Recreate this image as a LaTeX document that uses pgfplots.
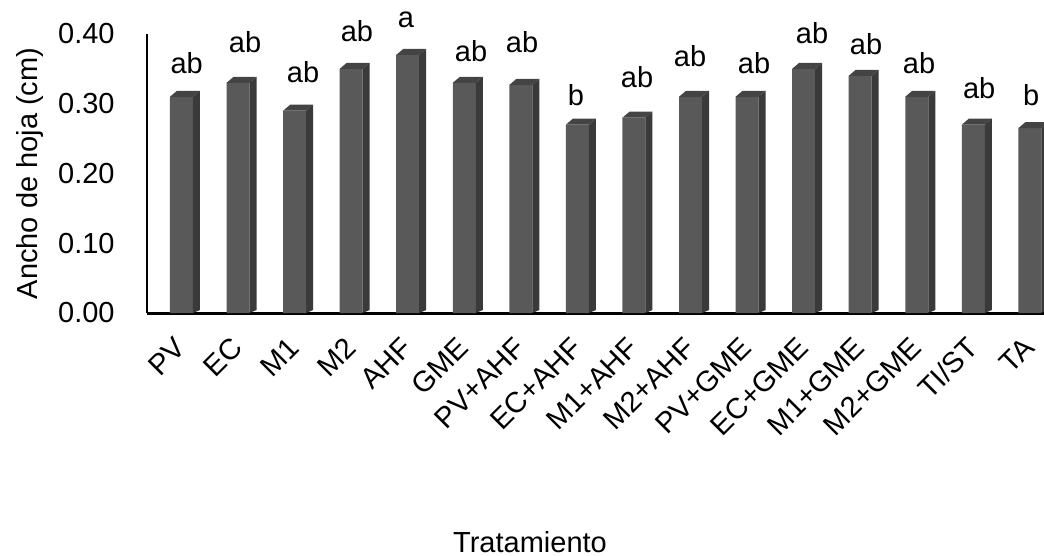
\documentclass[border=0pt]{standalone}
\usepackage{fontspec}
\setmainfont{Liberation Sans}
\usepackage{pgfplots}
\usepackage{pgfplotstable}
\pgfplotsset{compat=1.18}
\definecolor{frontc}{RGB}{89,89,89}
\definecolor{sidec}{RGB}{58,58,58}
\definecolor{topc}{RGB}{68,68,68}

\pgfplotstableread{
i lab val lx ly
0 ab 0.31 0.092 0.344
1 ab 0.33 1.123 0.373
2 ab 0.29 2.149 0.330
3 ab 0.35 3.103 0.389
4 a 0.37 3.970 0.410
5 ab 0.33 5.119 0.361
6 ab 0.327 6.021 0.373
7 b 0.27 6.976 0.297
8 ab 0.28 8.055 0.323
9 ab 0.31 8.992 0.353
10 ab 0.31 10.124 0.343
11 ab 0.35 11.149 0.387
12 ab 0.34 12.104 0.371
13 ab 0.31 13.042 0.344
14 ab 0.27 14.103 0.307
15 b 0.265 15.022 0.297
}\data

\pgfdeclareplotmark{box3d}{%
  \pgfpathmoveto{\pgfqpoint{-5.75pt}{0pt}}%
  \pgfpathlineto{\pgfqpoint{-2.25pt}{3pt}}%
  \pgfpathlineto{\pgfqpoint{9.25pt}{3pt}}%
  \pgfpathlineto{\pgfqpoint{5.75pt}{0pt}}%
  \pgfpathclose
  \pgfsetfillcolor{topc}%
  \pgfusepathqfill
  \pgfpathmoveto{\pgfqpoint{5.75pt}{0pt}}%
  \pgfpathlineto{\pgfqpoint{9.25pt}{3pt}}%
  \pgfpathlineto{\pgfpoint{9.25pt}{1.5pt-\barval*348.75pt}}%
  \pgfpathlineto{\pgfpoint{5.75pt}{-\barval*348.75pt}}%
  \pgfpathclose
  \pgfsetfillcolor{sidec}%
  \pgfusepathqfill
}

\newcommand\ffont{\fontsize{14.5}{17}\selectfont}

\begin{document}
\begin{tikzpicture}
\begin{axis}[name=ax, scale only axis, width=448.5pt, height=139.5pt,
  xmin=-0.61, xmax=15.25, ymin=0, ymax=0.4,
  axis x line*=bottom, axis y line*=left,
  x axis line style={line width=1.5pt},
  y axis line style={line width=1pt},
  xtick={0,...,15},
  xticklabels={PV,EC,M1,M2,AHF,GME,PV+AHF,EC+AHF,M1+AHF,M2+AHF,PV+GME,EC+GME,M1+GME,M2+GME,TI/ST,TA},
  ytick={0,0.1,0.2,0.3,0.4},
  major tick length=0pt,
  /pgf/number format/assume math mode=true,
  yticklabel style={/pgf/number format/.cd, fixed, fixed zerofill, precision=2, /tikz/.cd, anchor=east, inner sep=0pt, xshift=-16pt},
  xticklabel style={xshift=-4pt, yshift=-11pt, rotate=45, anchor=north east, inner sep=0pt},
  ticklabel style={font=\ffont},
  xlabel={Tratamiento}, ylabel={Ancho de hoja (cm)},
  xlabel style={at={([xshift=191.5pt,yshift=-119.5pt]axis description cs:0,0)}, anchor=base, inner sep=0pt, font=\ffont},
  ylabel style={at={([xshift=-54.5pt]axis description cs:0,0.5)}, anchor=base, inner sep=0pt, font=\ffont},
  clip=false]
\addplot[ybar, bar width=11.5pt, fill=frontc, draw=none] table[x=i, y=val] {\data};
\addplot[only marks, mark=box3d, visualization depends on={\thisrow{val}\as\barval}] table[x=i, y=val] {\data};
\addplot[draw=none, mark=none, nodes near coords, point meta=explicit symbolic,
  nodes near coords style={anchor=base, inner sep=0pt, font=\ffont, text=black}]
  table[x=lx, y=ly, meta=lab] {\data};
\end{axis}
\pgfresetboundingbox
\path ([xshift=-73.5pt,yshift=-121.5pt]ax.south west) rectangle ([yshift=17pt]ax.north east);
\end{tikzpicture}
\end{document}
